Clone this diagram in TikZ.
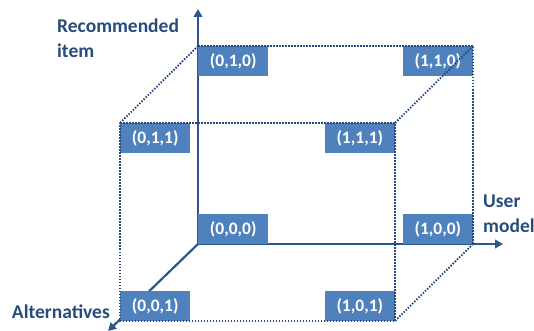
\documentclass[tikz,border=0pt]{standalone}
\usepackage{fontspec}
\setmainfont{Carlito}
\usetikzlibrary{arrows.meta}
\definecolor{boxblue}{RGB}{79,129,189}
\definecolor{axisblue}{RGB}{44,87,140}
\definecolor{dotblue}{RGB}{38,72,128}
\definecolor{labelblue}{RGB}{37,76,124}
\tikzset{
  vbox/.style={fill=boxblue, text=white, minimum width=70pt, minimum height=29.5pt, inner sep=0pt,
    font=\fontsize{17.5}{20}\selectfont\bfseries},
  axis/.style={draw=axisblue, line width=2.2pt, -{Triangle[length=8pt,width=8.5pt]}},
  edge/.style={draw=dotblue, line width=1.9pt, dash pattern=on 1.5pt off 1.5pt},
  axlabel/.style={text=labelblue, inner sep=0pt, align=left, font=\fontsize{19.5}{25}\selectfont\bfseries}
}
\begin{document}
\begin{tikzpicture}[x=1pt,y=-1pt]
\useasboundingbox (0,0) rectangle (534,331);
% cube corners
\coordinate (c000) at (198,244);
\coordinate (c100) at (473,244);
\coordinate (c010) at (198,46);
\coordinate (c110) at (473,46);
\coordinate (c001) at (120,321);
\coordinate (c101) at (395,321);
\coordinate (c011) at (120,123);
\coordinate (c111) at (395,123);
\coordinate (yend) at (198,9);
\coordinate (xend) at (503,244);
\coordinate (zend) at (108,331);
% axes
\draw[axis] (c000) -- (yend);
\draw[axis] (c000) -- (xend);
\draw[axis] (c000) -- (zend);
% boxes
\node[vbox, anchor=north west] (b010) at (c010) {(0,1,0)};
\node[vbox, anchor=north east] (b110) at (c110) {(1,1,0)};
\node[vbox, anchor=north west] (b011) at (c011) {(0,1,1)};
\node[vbox, anchor=north east] (b111) at (c111) {(1,1,1)};
\node[vbox, anchor=south west] (b000) at (c000) {(0,0,0)};
\node[vbox, anchor=south east] (b100) at (c100) {(1,0,0)};
\node[vbox, anchor=south west] (b001) at (c001) {(0,0,1)};
\node[vbox, anchor=south east] (b101) at (c101) {(1,0,1)};
% dotted edges
\draw[edge] (c010) -- (c110) -- (c100);
\draw[edge] (c011) -- (c111) -- (c101) -- (c001) -- cycle;
\draw[edge] (c010) -- (c011);
\draw[edge] (c110) -- (c111);
\draw[edge] (c100) -- (c101);
% labels
\node[axlabel, anchor=north west] (ly) at (57,19) {Recommended\\item};
\node[axlabel, anchor=north west] (lx) at (483,195) {User\\model};
\node[axlabel, anchor=base east] (lz) at (110,318) {Alternatives};
\end{tikzpicture}
\end{document}
